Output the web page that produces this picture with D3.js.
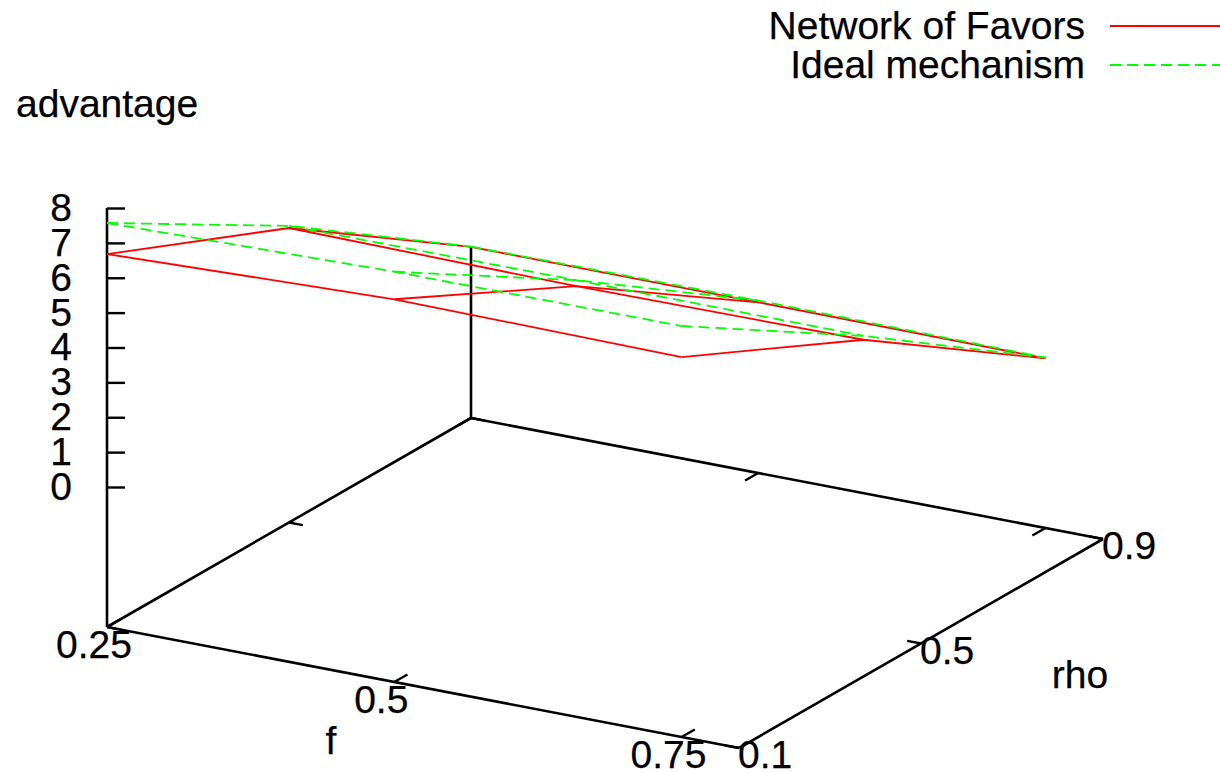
<!DOCTYPE html>
<html>
<head>
<meta charset="utf-8">
<script src="https://d3js.org/d3.v7.min.js"></script>
<style>
  html, body { margin: 0; background: #fff; }
  svg { display: block; }
  text { font-family: "Liberation Sans", Arial, sans-serif; font-size: 39px; fill: #000; stroke: #000; stroke-width: 0.25px; }
</style>
</head>
<body>
<script>
// values, rows are f, columns are rho
const fValues = [0.25, 0.5, 0.75];
const rhoValues = [0.1, 0.5, 0.9];
const favors = [
  [6.68, 4.43, 0.89],
  [6.96, 4.34, 0.88],
  [6.88, 4.38, 0.85]
];
const ideal = [
  [7.57, 4.49, 0.90],
  [7.75, 4.51, 0.93],
  [7.77, 4.49, 0.87]
];
const zTicks = [0, 1, 2, 3, 4, 5, 6, 7, 8];
const fTicks = [0.25, 0.5, 0.75];
const rhoTicks = [0.1, 0.5, 0.9];
const seriesNames = ["Network of Favors", "Ideal mechanism"];
const seriesColors = ["#ff0000", "#00ff00"];

const width = 1220, height = 772;
const originX = 107, originY = 627;

// gnuplot view is orthographic so each data axis is just a screen vector
const fX = d3.scaleLinear().domain([0.25, 0.8]).range([0, 632]),
    fY = d3.scaleLinear().domain([0.25, 0.8]).range([0, 121]),
    rhoX = d3.scaleLinear().domain([0.1, 0.9]).range([0, 364]),
    rhoY = d3.scaleLinear().domain([0.1, 0.9]).range([0, -209]),
    zY = d3.scaleLinear().domain([0, 8]).range([-140, -419]);

function project(f, rho, z) {
    return [originX + fX(f) + rhoX(rho), originY + fY(f) + rhoY(rho) + (z === null ? 0 : zY(z))];
}

const svg = d3.select("body").append("svg").attr("width", width).attr("height", height);
const line = d3.line();

function segment(a, b, w) {
    svg.append("path")
        .attr("d", line([a, b]))
        .attr("fill", "none")
        .attr("stroke", "#000")
        .attr("stroke-width", w);
}

// base of the box and the vertical axis
const fMin = fX.domain()[0], fMax = fX.domain()[1], rhoMin = rhoX.domain()[0], rhoMax = rhoX.domain()[1];
const axisW = 2.6, ticW = 2.4;
segment(project(fMin, rhoMin, null), project(fMax, rhoMin, null), axisW);
segment(project(fMax, rhoMin, null), project(fMax, rhoMax, null), axisW);
segment(project(fMax, rhoMax, null), project(fMin, rhoMax, null), axisW);
segment(project(fMin, rhoMax, null), project(fMin, rhoMin, null), axisW);
segment(project(fMin, rhoMin, null), project(fMin, rhoMin, 8), axisW);
segment(project(fMin, rhoMax, null), project(fMin, rhoMax, favors[0][2]), axisW);

// tics with their mirrors on the far edges
const fTic = 0.029, rhoTic = 0.012;
fTicks.forEach(f => {
    segment(project(f, rhoMin, null), project(f, rhoMin + fTic, null), ticW);
    segment(project(f, rhoMax, null), project(f, rhoMax - fTic, null), ticW);
});
rhoTicks.forEach(r => {
    segment(project(fMin, r, null), project(fMin + rhoTic, r, null), ticW);
    segment(project(fMax, r, null), project(fMax - rhoTic, r, null), ticW);
});

const zScale = d3.scaleLinear().domain(zY.domain()).range(zY.range().map(d => d + originY));
const zAxis = d3.axisLeft(zScale).tickValues(zTicks).tickSize(-18).tickPadding(35).tickFormat(d3.format("d"));
svg.append("g")
    .attr("transform", "translate(" + originX + ",0)")
    .attr("class", "axis z")
    .call(zAxis)
    .call(g => g.select(".domain").remove())
    .call(g => g.selectAll(".tick line").attr("stroke", "#000").attr("stroke-width", ticW))
    .call(g => g.selectAll(".tick text").attr("fill", null))
    .attr("font-size", null)
    .attr("font-family", null);

// wire surfaces, one isoline per f and one per rho
function drawSurface(values, color, dash) {
    const g = svg.append("g")
        .attr("fill", "none")
        .attr("stroke", color)
        .attr("stroke-width", 1.8)
        .attr("stroke-dasharray", dash);
    fValues.forEach((f, i) => {
        g.append("path").attr("d", line(rhoValues.map((r, j) => project(f, r, values[i][j]))));
    });
    rhoValues.forEach((r, j) => {
        g.append("path").attr("d", line(fValues.map((f, i) => project(f, r, values[i][j]))));
    });
}
drawSurface(favors, seriesColors[0], null);
drawSurface(ideal, seriesColors[1], "11,6");

// legend
seriesNames.forEach((name, i) => {
    const y = 26 + i * 39;
    svg.append("text").attr("x", 1085).attr("y", y + 13).attr("text-anchor", "end").text(name);
    svg.append("path")
        .attr("d", line([[1110, y], [1220, y]]))
        .attr("stroke", seriesColors[i])
        .attr("stroke-width", 1.8)
        .attr("stroke-dasharray", i ? "11,6" : null);
});

function label(x, y, txt, anchor) {
    svg.append("text").attr("x", x).attr("y", y).attr("text-anchor", anchor || "start").text(txt);
}
label(16, 117, "advantage");
label(331, 754, "f", "middle");
label(1080, 688, "rho", "middle");

fTicks.forEach(f => {
    const p = project(f, rhoMin, null);
    label(p[0] - 13, p[1] + 31, f, "middle");
});
rhoTicks.forEach(r => {
    const p = project(fMax, r, null);
    label(p[0] - 1, p[1] + 20, r);
});
</script>
</body>
</html>
